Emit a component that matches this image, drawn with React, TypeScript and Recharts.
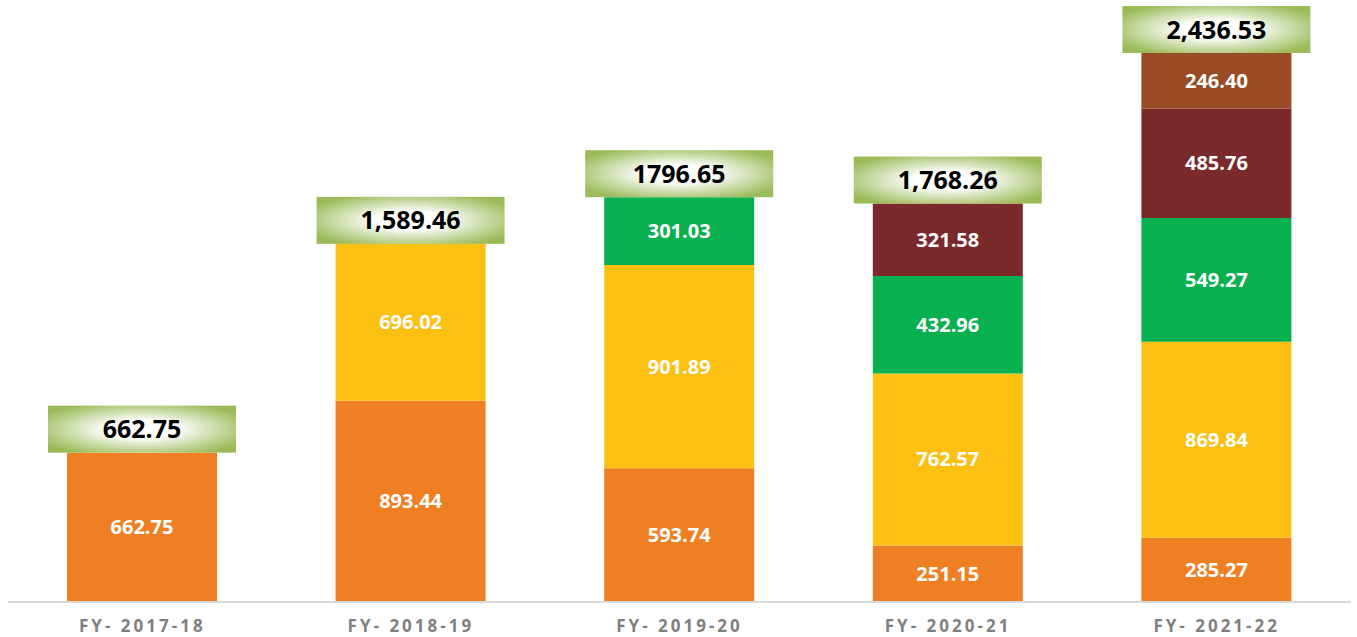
import { Bar, BarChart, LabelList, XAxis, YAxis } from "recharts";

const categories = ["FY- 2017-18", "FY- 2018-19", "FY- 2019-20", "FY- 2020-21", "FY- 2021-22"];
const seriesA = [662.75, 893.44, 593.74, 251.15, 285.27];
const seriesB = [0, 696.02, 901.89, 762.57, 869.84];
const seriesC = [0, 0, 301.03, 432.96, 549.27];
const seriesD = [0, 0, 0, 321.58, 485.76];
const seriesE = [0, 0, 0, 0, 246.4];
const totalLabels = ["662.75", "1,589.46", "1796.65", "1,768.26", "2,436.53"];

const keys = ["a", "b", "c", "d", "e"];
const colors = ["#EE8023", "#FCC013", "#08B04F", "#7A2A2B", "#984B24"];
const all = [seriesA, seriesB, seriesC, seriesD, seriesE];

// highest non-zero series in each column
const topSeries = categories.map((_, i) => {
  let top = 0;
  all.forEach((s, k) => {
    if (s[i] > 0) top = k;
  });
  return top;
});

const data = categories.map((name, i) => ({
  name,
  a: seriesA[i],
  b: seriesB[i],
  c: seriesC[i],
  d: seriesD[i],
  e: seriesE[i],
  total: totalLabels[i],
  top: topSeries[i],
}));

const FONT = "'Open Sans', sans-serif";

function Tick(props: any) {
  const { x, y, payload } = props;
  return (
    <text x={x} y={y + 22} textAnchor="middle" fill="#7F7F7F" fontFamily={FONT} fontWeight={700} fontSize={17} letterSpacing={3}>
      {payload.value}
    </text>
  );
}

export default function App() {
  return (
    <div style={{ position: "absolute", left: 0, top: 0, width: 1357, height: 637, background: "#fff" }}>
      <BarChart width={1357} height={637} data={data} margin={{ top: 53, right: 6, bottom: 0, left: 8 }} barSize={150}>
        <defs>
          <radialGradient id="boxGrad" cx="50%" cy="50%" r="60%">
            <stop offset="0%" stopColor="#FFFFFF" />
            <stop offset="30%" stopColor="#FFFFFF" />
            <stop offset="100%" stopColor="#9BBB59" />
          </radialGradient>
        </defs>
        <XAxis dataKey="name" axisLine={{ stroke: "#D9D9D9", strokeWidth: 2 }} tickLine={false} tick={<Tick />} height={35} interval={0} />
        <YAxis hide domain={[0, 2436.53]} allowDataOverflow />
        {keys.map((k, si) => (
          <Bar key={k} dataKey={k} stackId="s" fill={colors[si]} isAnimationActive={false}>
            <LabelList
              dataKey={k}
              content={(p: any) => {
                const { x, y, width, height, value } = p;
                if (!value) return null;
                return (
                  <text x={x + width / 2} y={y + height / 2} dy={7} textAnchor="middle" fill="#FFFFFF" fontFamily={FONT} fontWeight={700} fontSize={20}>
                    {Number(value).toFixed(2)}
                  </text>
                );
              }}
            />
            <LabelList
              dataKey={(row: any) => (row.top === si ? row.total : null)}
              content={(p: any) => {
                const { x, y, width, value } = p;
                if (!value) return null;
                const bw = 188;
                const bh = 47;
                const cx = x + width / 2;
                return (
                  <g>
                    <rect x={cx - bw / 2} y={y - bh} width={bw} height={bh} fill="url(#boxGrad)" />
                    <text x={cx} y={y - bh / 2} dy={9} textAnchor="middle" fill="#000" fontFamily={FONT} fontWeight={700} fontSize={25}>
                      {value}
                    </text>
                  </g>
                );
              }}
            />
          </Bar>
        ))}
      </BarChart>
    </div>
  );
}
